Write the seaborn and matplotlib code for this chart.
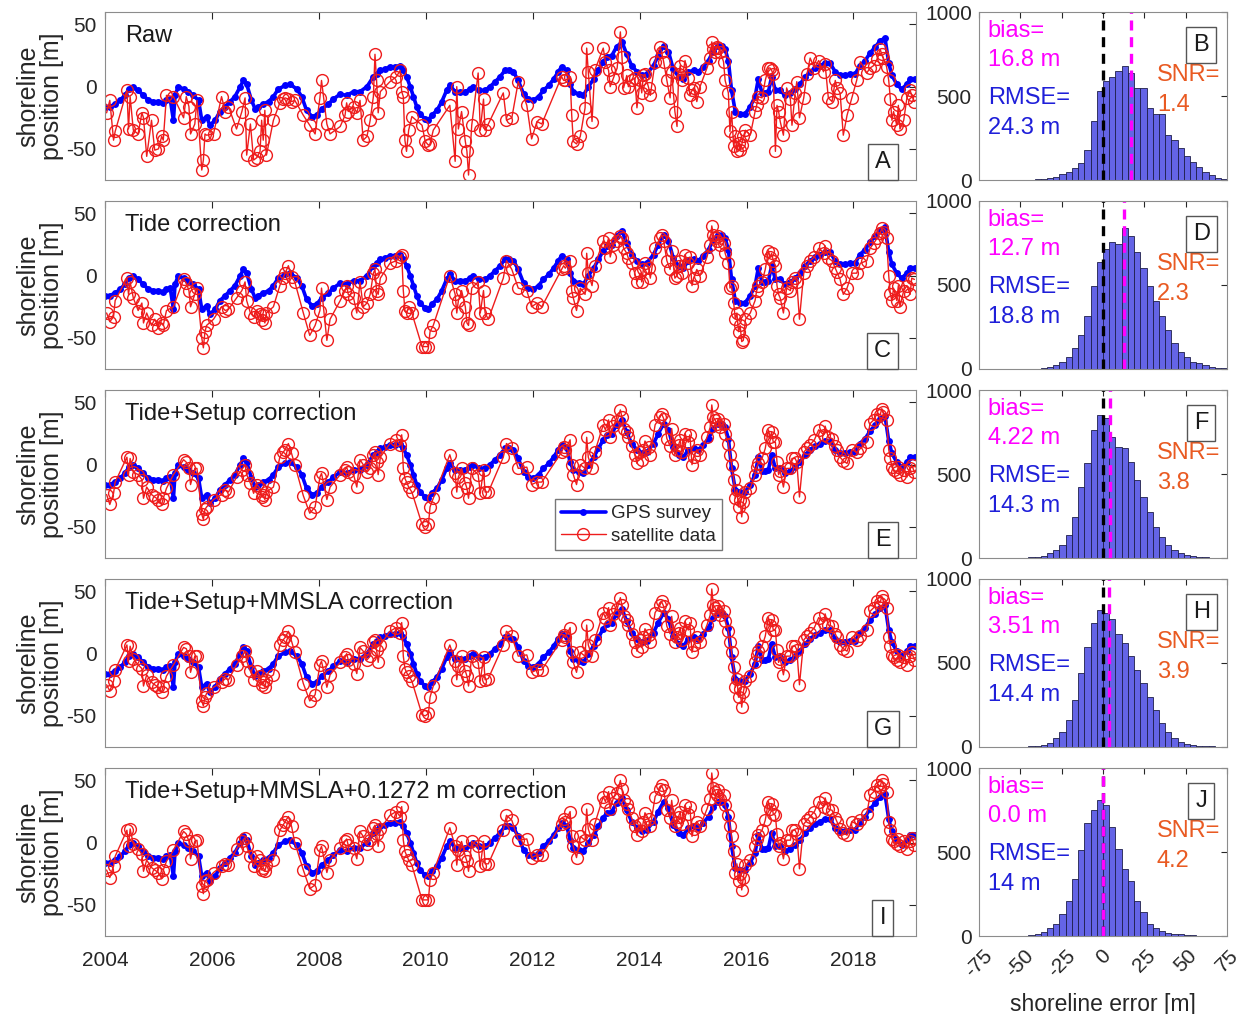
import numpy as np
import pandas as pd
import matplotlib
matplotlib.use("Agg")
import matplotlib.pyplot as plt
from matplotlib.lines import Line2D
import seaborn as sns

# ---------------- GPS survey (decimal year, shoreline position in m) ----------------
gps_year = [
    2004.00, 2004.09, 2004.19, 2004.28, 2004.37, 2004.45, 2004.53, 2004.62, 2004.72, 2004.81, 2004.90,
    2005.00, 2005.09, 2005.15, 2005.22, 2005.28, 2005.31, 2005.37, 2005.47, 2005.56, 2005.65, 2005.75,
    2005.81, 2005.90, 2005.96, 2006.06, 2006.15, 2006.25, 2006.34, 2006.43, 2006.53, 2006.59, 2006.65,
    2006.74, 2006.81, 2006.87, 2006.96, 2007.06, 2007.15, 2007.24, 2007.37, 2007.46, 2007.59, 2007.68,
    2007.77, 2007.87, 2007.96, 2008.05, 2008.18, 2008.27, 2008.40, 2008.52, 2008.65, 2008.77, 2008.90,
    2009.02, 2009.08, 2009.15, 2009.24, 2009.33, 2009.43, 2009.52, 2009.58, 2009.64, 2009.71, 2009.77,
    2009.83, 2009.89, 2009.99, 2010.05, 2010.11, 2010.21, 2010.30, 2010.39, 2010.45, 2010.55, 2010.64,
    2010.74, 2010.83, 2010.89, 2010.99, 2011.11, 2011.20, 2011.30, 2011.39, 2011.48, 2011.55, 2011.64,
    2011.73, 2011.83, 2011.92, 2012.01, 2012.11, 2012.20, 2012.30, 2012.39, 2012.48, 2012.54, 2012.64,
    2012.70, 2012.76, 2012.86, 2012.95, 2013.04, 2013.14, 2013.23, 2013.32, 2013.39, 2013.48, 2013.57,
    2013.67, 2013.76, 2013.85, 2013.95, 2014.04, 2014.13, 2014.26, 2014.35, 2014.45, 2014.54, 2014.63,
    2014.73, 2014.82, 2014.91, 2015.01, 2015.10, 2015.19, 2015.29, 2015.38, 2015.47, 2015.54, 2015.60,
    2015.66, 2015.72, 2015.79, 2015.88, 2015.97, 2016.07, 2016.16, 2016.22, 2016.29, 2016.35, 2016.41,
    2016.47, 2016.54, 2016.63, 2016.72, 2016.82, 2016.91, 2017.00, 2017.10, 2017.19, 2017.28, 2017.38,
    2017.47, 2017.56, 2017.66, 2017.75, 2017.84, 2017.94, 2018.03, 2018.12, 2018.22, 2018.31, 2018.41,
    2018.50, 2018.59, 2018.66, 2018.72, 2018.81, 2018.90, 2019.00, 2019.06, 2019.15,
]
gps_pos = [
    -16, -16, -14, -11, -7, -2, 0, -3, -7, -11, -12,
    -12, -13, -11, -10, -27, -7, 0, -2, -4, -7, -11,
    -27, -24, -31, -27, -20, -16, -12, -8, 0, 5, 2,
    -11, -18, -16, -14, -12, -8, -2, 1, 2, -2, -8,
    -19, -24, -23, -18, -14, -10, -6, -7, -4, -4, 0,
    8, 10, 13, 14, 16, 16, 17, 13, 8, 0, -8,
    -16, -22, -26, -27, -23, -19, -12, -3, 1, -4, -4,
    -4, -2, 0, -3, -3, 0, 4, 8, 13, 13, 12,
    5, -6, -10, -11, -8, -3, 1, 6, 12, 16, 13,
    2, -4, -6, -7, 0, 6, 13, 20, 24, 25, 32,
    36, 26, 17, 12, 9, 10, 17, 25, 33, 28, 14,
    8, 6, 12, 13, 12, 16, 21, 29, 33, 33, 30,
    21, -3, -20, -22, -22, -16, -8, 6, -5, -5, -4,
    8, -3, -3, -7, -5, -2, 2, 8, 12, 15, 17,
    19, 19, 12, 9, 9, 10, 10, 17, 21, 27, 32,
    37, 39, 19, 9, 2, -2, 2, 6, 6,
]

# ---------------- satellite-derived shoreline (same image dates for every correction) ----------------
sat_year = [
    2004.03, 2004.09, 2004.16, 2004.19, 2004.41, 2004.44, 2004.47, 2004.53, 2004.62, 2004.69, 2004.72, 2004.78, 2004.87, 2004.93,
    2005.00, 2005.06, 2005.09, 2005.15, 2005.28, 2005.47, 2005.52, 2005.57, 2005.60, 2005.68, 2005.72, 2005.81, 2005.84, 2005.87, 2005.90,
    2006.03, 2006.18, 2006.25, 2006.31, 2006.46, 2006.56, 2006.62, 2006.65, 2006.72, 2006.78, 2006.84, 2006.90, 2006.93, 2006.96, 2006.99,
    2007.02, 2007.15, 2007.27, 2007.33, 2007.37, 2007.43, 2007.49, 2007.55, 2007.71, 2007.83, 2007.93,
    2008.02, 2008.05, 2008.15, 2008.21, 2008.40, 2008.49, 2008.52, 2008.55, 2008.65, 2008.71, 2008.77, 2008.83, 2008.90, 2008.96,
    2009.02, 2009.05, 2009.08, 2009.11, 2009.15, 2009.33, 2009.45, 2009.52, 2009.55, 2009.58, 2009.61, 2009.64, 2009.68, 2009.74, 2009.93, 2009.99,
    2010.05, 2010.08, 2010.14, 2010.45, 2010.55, 2010.58, 2010.61, 2010.67, 2010.74, 2010.77, 2010.80, 2010.86, 2010.98,
    2011.02, 2011.08, 2011.11, 2011.17, 2011.45, 2011.51, 2011.61, 2011.73, 2011.89, 2011.98,
    2012.08, 2012.17, 2012.54, 2012.58, 2012.61, 2012.70, 2012.73, 2012.76, 2012.82, 2012.89, 2012.98,
    2013.01, 2013.04, 2013.11, 2013.16, 2013.32, 2013.36, 2013.42, 2013.45, 2013.51, 2013.58, 2013.64, 2013.67, 2013.70, 2013.76, 2013.79, 2013.85, 2013.91, 2013.95,
    2014.01, 2014.04, 2014.07, 2014.10, 2014.17, 2014.20, 2014.29, 2014.38, 2014.41, 2014.45, 2014.51, 2014.57, 2014.60, 2014.66, 2014.70, 2014.73, 2014.76, 2014.79, 2014.85, 2014.91, 2014.94, 2014.98,
    2015.01, 2015.07, 2015.13, 2015.26, 2015.32, 2015.35, 2015.38, 2015.41, 2015.44, 2015.47, 2015.51, 2015.57, 2015.60, 2015.66, 2015.69, 2015.72, 2015.76, 2015.79, 2015.82, 2015.85, 2015.88, 2015.91, 2015.94, 2015.98,
    2016.07, 2016.16, 2016.19, 2016.22, 2016.29, 2016.35, 2016.41, 2016.44, 2016.47, 2016.50, 2016.54, 2016.57, 2016.60, 2016.63, 2016.69, 2016.75, 2016.82, 2016.85, 2016.91, 2016.94, 2016.99,
    2017.07, 2017.13, 2017.19, 2017.27, 2017.35, 2017.44, 2017.47, 2017.53, 2017.60, 2017.66, 2017.69, 2017.75, 2017.81, 2017.88, 2017.97,
    2018.06, 2018.13, 2018.25, 2018.31, 2018.38, 2018.44, 2018.50, 2018.53, 2018.56, 2018.62, 2018.66, 2018.69, 2018.72, 2018.75, 2018.81, 2018.84, 2018.87, 2018.94,
    2019.00, 2019.06, 2019.09, 2019.14,
]
sat_raw = [
    -21, -11, -43, -36, -3, -34, -8, -35, -38, -21, -25, -56, -27, -51,
    -50, -40, -43, -7, -8, -25, -8, -16, -38, -30, -11, -67, -59, -38, -39,
    -38, -8, -20, -16, -34, -20, -9, -55, -30, -59, -57, -52, -27, -43, -19,
    -55, -27, -13, -10, -9, -10, -12, -11, -23, -31, -38,
    -9, 5, -30, -38, -32, -23, -13, -20, -16, -21, -11, -43, -40, -27,
    -8, 26, 5, -21, -4, 4, 8, 13, -4, -8, -43, -52, -35, -24, -31, -44,
    -47, -46, -35, -15, -60, 0, -34, -20, -44, -52, -71, -31, 11,
    -35, -10, -35, -30, -5, -27, -25, 4, -15, -42,
    -28, -30, 8, 5, 5, 8, -23, -44, -46, -40, -17,
    31, 12, -28, 13, 31, 20, 13, 0, 7, 15, 44, 24, -1, 9, 0, 5, 7, -17,
    5, -5, 9, 10, -1, -7, 20, 32, 28, 20, 5, -9, 12, -20, -32, 10, 17, 5, 21, 7, -7, -3,
    -1, -12, 0, 15, 23, 36, 30, 28, 32, 31, 28, 20, 5, -5, -36, -20, -48, -40, -52, -45, -51, -47, -40, -35,
    -39, -20, -15, -8, -9, 5, 15, 15, 13, 10, -52, -15, -20, -28, -39, -1, -10, -31, -5, 4, -25,
    -9, 10, 23, 15, 21, 12, 18, -9, -12, 5, -1, -5, -39, -23, -9,
    5, 20, 11, 15, 17, 22, 30, 26, 23, 16, 5, -10, -27, -20, -31, -15, -34, -27,
    -9, -3, -7, -12,
]
sat_tide = [
    -30, -37, -33, -20, -2, -15, -5, -18, -28, -22, -38, -30, -40, -35,
    -42, -38, -40, -28, -25, -3, -6, -12, -25, -15, -10, -50, -58, -45, -40,
    -35, -25, -28, -27, -18, -12, -5, -20, -30, -33, -28, -31, -36, -32, -38,
    -30, -25, -8, -2, 2, 8, -1, -5, -30, -48, -40,
    -28, -10, -52, -35, -20, -12, -8, -15, -18, -30, -5, -25, -22, -15,
    2, 5, -12, -15, -2, 10, 12, 15, 17, -12, -28, -30, -25, -30, -57, -57,
    -57, -45, -40, 0, -15, -30, -20, -12, -25, -38, -40, -10, -5,
    -30, -12, -30, -35, -2, 12, 5, -10, -12, -25,
    -22, -25, 5, 8, 6, 12, -12, -18, -28, -10, -15,
    18, 2, -8, 8, 28, 22, 30, 15, 25, 28, 32, 30, 22, 18, 14, 10, 2, -5,
    2, -5, 5, 10, 6, -2, 22, 30, 33, 28, 12, 5, 20, -2, 0, 8, 12, 2, 17, 10, 15, -8,
    -2, 5, 0, 15, 25, 40, 33, 30, 28, 32, 25, 26, 18, 10, -10, -8, -22, -35, -30, -45, -40, -53, -52, -35,
    -30, -20, -12, -8, -5, 5, 20, 15, 18, 12, 8, -8, -15, -18, -30, -10, -12, -5, -2, -5, -35,
    2, 8, 12, 15, 22, 18, 24, 14, 12, 6, 3, -3, -15, -10, 2,
    2, 10, 12, 22, 26, 30, 34, 38, 35, 30, 0, -15, -20, -10, -20, -8, -25, -12,
    -8, -15, -2, -3,
]
sat_setup = [
    -24, -32, -23, -14, 6, -8, 5, -6, -8, -12, -27, -18, -24, -26,
    -28, -32, -27, -19, -8, 4, 2, -3, -16, -3, -3, -40, -44, -36, -34,
    -28, -24, -20, -22, -10, -4, 0, -8, -15, -23, -16, -19, -26, -24, -28,
    -22, -18, 6, 10, 12, 17, 9, 0, -25, -39, -34,
    -10, -7, -28, -18, -8, -4, -2, -6, -8, -18, 4, 0, -6, -3,
    8, 10, 2, -8, 6, 17, 20, 16, 24, -3, -11, -14, -18, -22, -48, -50,
    -48, -34, -27, 8, -7, -22, -10, -3, -15, -19, -27, -3, -8,
    -23, -4, -22, -22, 6, 17, 13, -3, -2, -16,
    -14, -14, 10, 14, 12, 20, 0, -8, -16, 0, -3,
    22, 6, -3, 10, 32, 28, 36, 22, 31, 35, 44, 38, 29, 26, 22, 15, 8, 1,
    10, 4, 12, 19, 14, 8, 32, 38, 41, 37, 21, 15, 29, 8, 12, 16, 20, 10, 25, 18, 24, 0,
    6, 12, 8, 22, 30, 48, 38, 36, 33, 37, 30, 33, 25, 17, 8, 0, -12, -27, -20, -34, -28, -42, -30, -22,
    -19, -8, -2, 1, 5, 13, 28, 22, 26, 18, 18, 2, -8, -5, -18, -3, -3, 5, 5, 2, -26,
    10, 13, 16, 20, 28, 24, 31, 22, 21, 15, 12, 6, 3, 1, 12,
    10, 13, 18, 33, 36, 41, 40, 45, 42, 36, 12, 5, -2, -4, -6, -2, -8, -4,
    -10, -3, 0, -6,
]
sat_mmsla = [
    -25, -30, -22, -13, 7, -6, 6, -4, -9, -12, -26, -17, -23, -25,
    -27, -31, -26, -18, -9, 5, 4, -2, -15, -2, -2, -38, -42, -35, -32,
    -27, -23, -20, -21, -9, -2, 2, -6, -14, -21, -14, -18, -25, -23, -27,
    -21, -17, 7, 11, 13, 18, 10, 1, -24, -38, -33,
    -9, -6, -27, -17, -7, -3, 0, -5, -8, -16, 5, 2, -5, -2,
    9, 11, 3, -7, 7, 18, 21, 17, 25, -2, -12, -15, -18, -22, -49, -50,
    -48, -35, -26, 7, -6, -21, -10, -2, -14, -18, -26, -2, -7,
    -22, -3, -21, -20, 7, 18, 14, -2, -1, -15,
    -13, -13, 11, 15, 13, 21, 1, -7, -15, 1, -2,
    23, 7, -2, 11, 33, 29, 37, 23, 32, 36, 45, 39, 30, 27, 23, 16, 9, 2,
    11, 5, 13, 20, 15, 9, 33, 39, 42, 38, 22, 16, 30, 9, 13, 17, 21, 11, 26, 19, 25, 1,
    7, 13, 9, 23, 31, 52, 39, 37, 34, 38, 31, 34, 26, 18, 9, 1, -11, -27, -20, -35, -28, -43, -31, -22,
    -18, -7, -1, 2, 6, 14, 29, 23, 27, 19, 19, 3, -7, -4, -17, -2, -2, 6, 6, 3, -25,
    11, 14, 17, 21, 29, 25, 32, 23, 22, 16, 13, 7, 4, 2, 13,
    11, 14, 19, 34, 37, 42, 41, 46, 43, 37, 13, 6, -1, -3, -5, -1, -7, -3,
    -9, -2, 1, -5,
]
sat_final = [
    -22, -28, -19, -11, 10, -3, 11, -1, -5, -9, -23, -14, -20, -22,
    -24, -29, -22, -15, -6, 9, 7, 1, -13, 1, 2, -35, -41, -31, -30,
    -24, -19, -17, -18, -5, 1, 4, -3, -11, -19, -11, -14, -22, -20, -23,
    -18, -14, 10, 14, 17, 21, 13, 0, -22, -37, -34,
    -6, -3, -24, -14, -4, 1, 3, -2, -4, -13, 9, 5, -1, 2,
    12, 14, 7, -3, 11, 22, 25, 21, 29, 2, -7, -10, -14, -18, -46, -46,
    -46, -30, -24, 12, -3, -18, -6, 1, -11, -15, -23, 1, -3,
    -19, 1, -17, -17, 10, 22, 18, 2, 3, -12,
    -10, -10, 15, 19, 17, 25, 5, -3, -12, 5, 2,
    27, 11, 2, 15, 37, 33, 41, 27, 36, 40, 50, 43, 34, 31, 27, 20, 13, 6,
    15, 9, 17, 24, 19, 13, 37, 43, 46, 42, 26, 20, 34, 13, 17, 21, 25, 15, 30, 23, 29, 5,
    11, 17, 13, 27, 35, 56, 44, 41, 38, 42, 35, 38, 30, 22, 13, 5, -7, -24, -17, -31, -25, -38, -28, -18,
    -14, -3, 3, 6, 10, 18, 33, 27, 31, 23, 22, 7, -3, 0, -13, 2, 2, 10, 10, 7, -21,
    15, 18, 21, 25, 33, 29, 36, 27, 26, 20, 17, 11, 8, 6, 17,
    15, 18, 23, 38, 41, 46, 45, 50, 47, 41, 17, 10, 3, 1, -1, 3, -3, 1,
    -5, 1, 4, -2,
]

# ---------------- error histograms: counts in 3.75 m bins from -75 to 75 m ----------------
hist_raw = [0, 0, 0, 0, 0, 0, 0, 0, 1, 3, 5, 10, 20, 36, 50, 70, 100, 180, 350, 530,
            590, 615, 650, 680, 635, 550, 545, 430, 390, 395, 270, 240, 190, 140, 110, 80, 50, 30, 14, 6]
hist_tide = [0, 0, 0, 0, 0, 0, 0, 0, 1, 2, 5, 14, 24, 44, 74, 124, 204, 314, 494, 634,
             714, 754, 744, 838, 790, 694, 604, 494, 404, 314, 234, 154, 104, 74, 44, 34, 24, 14, 6, 3]
hist_setup = [0, 0, 0, 0, 0, 0, 0, 1, 4, 8, 14, 28, 48, 77, 137, 246, 425, 563, 762, 851,
              831, 722, 663, 653, 573, 464, 365, 276, 187, 127, 77, 48, 28, 18, 10, 6, 4, 2, 1, 0]
hist_mmsla = [0, 0, 0, 0, 0, 0, 0, 1, 4, 8, 14, 22, 52, 91, 161, 280, 438, 597, 736, 815,
              800, 760, 670, 620, 540, 460, 380, 300, 220, 140, 90, 52, 30, 20, 12, 8, 5, 3, 2, 0]
hist_final = [0, 0, 0, 0, 0, 0, 1, 2, 6, 10, 26, 50, 74, 130, 210, 340, 510, 670, 750, 810,
              780, 650, 520, 400, 330, 210, 140, 70, 50, 30, 20, 14, 10, 6, 4, 2, 1, 0, 0, 0]

# ---------------- labels and statistics ----------------
panel_titles = ["Raw", "Tide correction", "Tide+Setup correction",
                "Tide+Setup+MMSLA correction", "Tide+Setup+MMSLA+0.1272 m correction"]
ts_letters = ["A", "C", "E", "G", "I"]
hist_letters = ["B", "D", "F", "H", "J"]
bias_values = [16.8, 12.7, 4.22, 3.51, 0.0]
bias_labels = ["16.8 m", "12.7 m", "4.22 m", "3.51 m", "0.0 m"]
rmse_labels = ["24.3 m", "18.8 m", "14.3 m", "14.4 m", "14 m"]
snr_labels = ["1.4", "2.3", "3.8", "3.9", "4.2"]
year_ticks = [2004, 2006, 2008, 2010, 2012, 2014, 2016, 2018]
error_ticks = [-75, -50, -25, 0, 25, 50, 75]

sat_series = [sat_raw, sat_tide, sat_setup, sat_mmsla, sat_final]
hist_series = [hist_raw, hist_tide, hist_setup, hist_mmsla, hist_final]

# ---------------- styling ----------------
sns.set_theme(style="white")
plt.rcParams["font.family"] = ["Liberation Sans", "DejaVu Sans"]
plt.rcParams["axes.edgecolor"] = "#262626"
plt.rcParams["axes.linewidth"] = 0.8
plt.rcParams["axes.unicode_minus"] = False

GPS_BLUE = "#0000FF"
SAT_RED = "#EE1C1C"
MAGENTA = "#FF00FF"
RMSE_BLUE = "#1F1FD9"
SNR_ORANGE = "#E95A22"
BAR_FACE = "#6464E6"
BAR_EDGE = "#1E1E4A"
TEXT_DARK = "#262626"

W, H = 1247, 1014
fig = plt.figure(figsize=(W / 100, H / 100), dpi=100)
row_tops = [12, 201, 390, 579, 768]
row_h = 168

edges = np.linspace(-75, 75, 41)
centers = 0.5 * (edges[:-1] + edges[1:])

gps_df = pd.DataFrame({"year": gps_year, "pos": gps_pos})

for r in range(5):
    bottom = 1 - (row_tops[r] + row_h) / H
    ax = fig.add_axes([105 / W, bottom, 811 / W, row_h / H])
    hx = fig.add_axes([978.7 / W, bottom, 248.6 / W, row_h / H])
    last = r == 4

    # ---- time series ----
    sat_df = pd.DataFrame({"year": sat_year, "pos": sat_series[r]})
    sns.lineplot(data=gps_df, x="year", y="pos", ax=ax, color=GPS_BLUE, linewidth=2.6,
                 marker="o", markersize=5, markeredgewidth=0, markeredgecolor=GPS_BLUE,
                 estimator=None, sort=False, legend=False)
    sns.lineplot(data=sat_df, x="year", y="pos", ax=ax, color=SAT_RED, linewidth=1.0,
                 marker="o", markersize=8.5, markerfacecolor="none", markeredgecolor=SAT_RED,
                 markeredgewidth=1.0, estimator=None, sort=False, legend=False)
    ax.set_xlim(2004, 2019.17)
    ax.set_ylim(-75, 60)
    ax.set_xticks(year_ticks)
    ax.set_yticks([-50, 0, 50])
    ax.tick_params(direction="in", top=True, right=True, length=5, width=0.8,
                   labelsize=15, labelcolor=TEXT_DARK, color="#262626", pad=6)
    ax.tick_params(axis="x", pad=11)
    if not last:
        ax.set_xticklabels([])
    ax.set_xlabel("")
    ax.set_ylabel("shoreline\nposition [m]", fontsize=18, color=TEXT_DARK,
                  linespacing=0.95, labelpad=2)
    for s in ax.spines.values():
        s.set_visible(True)
        s.set_color("#8c8c8c")
    ax.text(0.025, 0.855, panel_titles[r], transform=ax.transAxes, fontsize=17,
            color="#1a1a1a", va="center", ha="left")
    ax.text(0.959, 0.107, ts_letters[r], transform=ax.transAxes, fontsize=17,
            color="#1a1a1a", va="center", ha="center",
            bbox=dict(boxstyle="square,pad=0.3", facecolor="white", edgecolor="#555555", linewidth=1))
    if r == 2:
        handles = [
            Line2D([], [], color=GPS_BLUE, lw=2.6, marker="o", markersize=5, markeredgewidth=0),
            Line2D([], [], color=SAT_RED, lw=1.0, marker="o", markersize=8.5,
                   markerfacecolor="none", markeredgecolor=SAT_RED, markeredgewidth=1.0),
        ]
        leg = ax.legend(handles, ["GPS survey", "satellite data"], loc="lower left",
                        bbox_to_anchor=(0.555, 0.045), fontsize=13.5, frameon=True,
                        fancybox=False, handlelength=2.4, handletextpad=0.3,
                        borderpad=0.3, labelspacing=0.3, borderaxespad=0)
        leg.get_frame().set_edgecolor("#555555")
        leg.get_frame().set_linewidth(1)

    # ---- error histogram ----
    err_df = pd.DataFrame({"error": centers, "count": hist_series[r]})
    sns.histplot(data=err_df, x="error", weights="count", bins=list(edges), ax=hx,
                 color=BAR_FACE, edgecolor=BAR_EDGE, linewidth=0.6, alpha=1.0)
    hx.axvline(0, color="black", linestyle=(0, (3, 2)), linewidth=2.4)
    hx.axvline(bias_values[r], color=MAGENTA, linestyle=(0, (3, 2)), linewidth=2.4)
    hx.set_xlim(-75, 75)
    hx.set_ylim(0, 1000)
    hx.set_xticks(error_ticks)
    hx.set_yticks([0, 500, 1000])
    hx.tick_params(direction="in", top=True, right=True, length=4, width=0.8,
                   labelsize=15, labelcolor=TEXT_DARK, color="#262626", pad=5)
    hx.set_ylabel("")
    if last:
        hx.set_xticklabels([str(t) for t in error_ticks], rotation=45)
        hx.tick_params(axis="x", pad=7)
        hx.set_xlabel("shoreline error [m]", fontsize=16.5, color=TEXT_DARK, labelpad=9)
    else:
        hx.set_xticklabels([])
        hx.set_xlabel("")
    for s in hx.spines.values():
        s.set_visible(True)
        s.set_color("#8c8c8c")
    hx.text(0.037, 0.887, "bias=", transform=hx.transAxes, fontsize=17, color=MAGENTA, va="center")
    hx.text(0.037, 0.714, bias_labels[r], transform=hx.transAxes, fontsize=17, color=MAGENTA, va="center")
    hx.text(0.037, 0.488, "RMSE=", transform=hx.transAxes, fontsize=17, color=RMSE_BLUE, va="center")
    hx.text(0.037, 0.31, rmse_labels[r], transform=hx.transAxes, fontsize=17, color=RMSE_BLUE, va="center")
    hx.text(0.717, 0.625, "SNR=", transform=hx.transAxes, fontsize=17, color=SNR_ORANGE, va="center")
    hx.text(0.717, 0.446, snr_labels[r], transform=hx.transAxes, fontsize=17, color=SNR_ORANGE, va="center")
    hx.text(0.895, 0.804, hist_letters[r], transform=hx.transAxes, fontsize=17,
            color="#1a1a1a", va="center", ha="center",
            bbox=dict(boxstyle="square,pad=0.3", facecolor="white", edgecolor="#555555", linewidth=1))

fig.savefig("out.png", dpi=100)
